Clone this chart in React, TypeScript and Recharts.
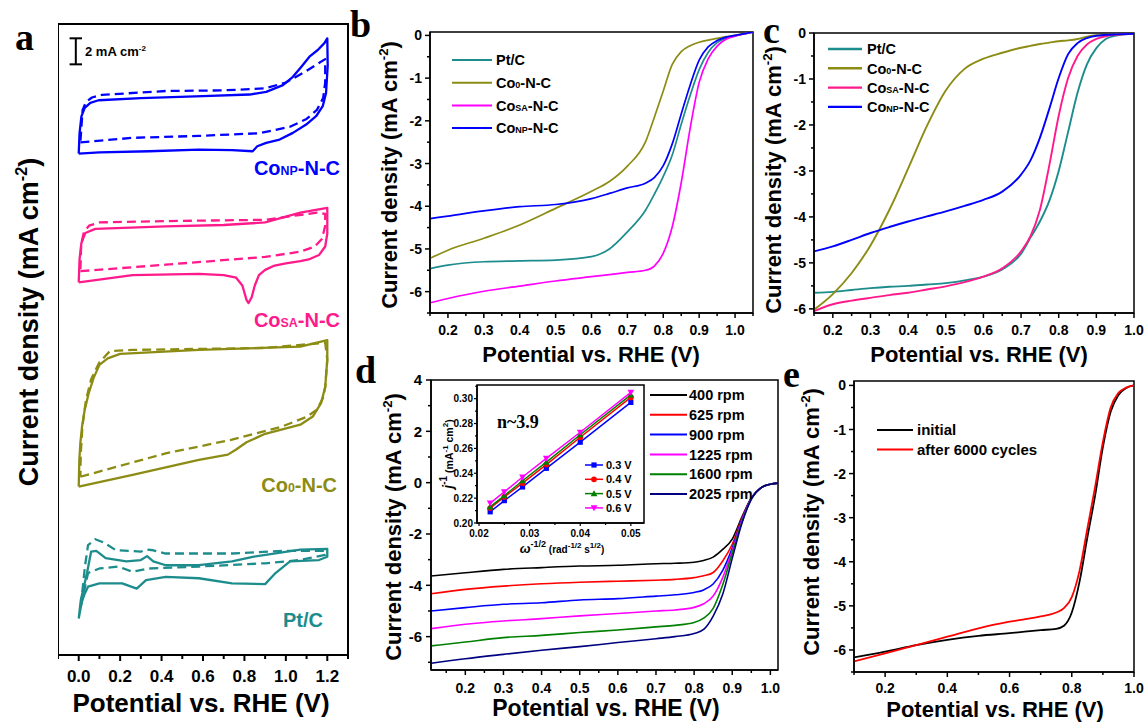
import React from 'react'
import { LineChart, Line, XAxis, YAxis, ReferenceArea, ReferenceLine } from 'recharts'

const FONT = '"Liberation Sans", Arial, Helvetica, sans-serif'
const SERIF = '"Liberation Serif", "Times New Roman", serif'

const TEAL = '#1c8c8c'
const OLIVE = '#8c8c14'
const PINK = '#ff1a8c'
const MAGENTA = '#ff00ff'
const BLUE = '#0000ff'

// ---------- panel a : CV loops, stacked (x in V, y in mA cm-2 with offsets)
const cvNpSolid = [[0.0, 38.54], [0.1, 38.64], [0.34, 38.72], [0.58, 38.85], [0.74, 38.8], [0.84, 38.72], [0.862, 39.1], [0.905, 39.36], [0.97, 39.62], [1.034, 40.13], [1.098, 40.77], [1.146, 41.41], [1.178, 42.18], [1.194, 43.2], [1.202, 45.3], [1.2, 47.4], [1.186, 47.03], [1.154, 46.5], [1.114, 45.99], [1.074, 45.2], [1.034, 44.44], [0.986, 43.8], [0.905, 43.28], [0.825, 43.08], [0.6, 42.95], [0.3, 42.8], [0.096, 42.64], [0.056, 42.44], [0.029, 42.05], [0.013, 41.4], [0.004, 40.1], [0.0, 38.54]]
const cvNpDash = [[0.008, 39.4], [0.26, 39.75], [0.58, 39.9], [0.87, 40.1], [1.02, 40.6], [1.1, 41.2], [1.15, 41.9], [1.18, 42.8], [1.19, 44.0], [1.19, 45.8], [1.15, 45.4], [1.1, 44.9], [1.0, 44.0], [0.9, 43.55], [0.7, 43.4], [0.42, 43.35], [0.112, 43.05], [0.064, 42.85], [0.035, 42.5], [0.019, 41.9], [0.013, 40.6], [0.008, 39.4]]
const cvSaSolid = [[0.0, 28.64], [0.26, 29.2], [0.58, 29.3], [0.7, 29.2], [0.76, 29.0], [0.79, 28.4], [0.81, 27.3], [0.82, 27.05], [0.835, 27.5], [0.85, 28.4], [0.87, 29.2], [0.9, 29.6], [0.94, 29.9], [1.0, 30.1], [1.07, 30.28], [1.11, 30.4], [1.16, 30.74], [1.19, 31.4], [1.2, 32.4], [1.2, 34.36], [1.07, 34.0], [0.9, 33.25], [0.7, 33.05], [0.42, 32.95], [0.08, 32.75], [0.032, 32.44], [0.013, 31.67], [0.004, 30.4], [0.0, 28.64]]
const cvSaDash = [[0.008, 29.5], [0.42, 30.0], [0.9, 30.6], [1.07, 31.0], [1.14, 31.4], [1.175, 32.0], [1.19, 33.0], [1.19, 33.9], [1.15, 34.0], [0.9, 33.45], [0.42, 33.35], [0.1, 33.25], [0.05, 33.0], [0.025, 32.5], [0.012, 31.6], [0.008, 29.5]]
const cvC0Solid = [[0.0, 12.95], [0.26, 13.85], [0.58, 15.0], [0.72, 15.4], [0.76, 15.8], [0.81, 16.35], [0.9, 17.0], [1.07, 17.7], [1.13, 18.33], [1.17, 19.36], [1.19, 20.6], [1.2, 22.7], [1.2, 24.2], [1.07, 23.7], [0.58, 23.45], [0.2, 23.15], [0.14, 22.8], [0.1, 22.3], [0.072, 21.3], [0.048, 20.1], [0.029, 18.85], [0.016, 17.55], [0.008, 16.3], [0.003, 15.0], [0.0, 12.95]]
const cvC0Dash = [[0.008, 13.7], [0.42, 15.5], [0.74, 16.55], [0.98, 17.55], [1.1, 18.3], [1.15, 18.85], [1.18, 19.8], [1.19, 20.6], [1.2, 22.7], [1.19, 24.0], [0.9, 23.6], [0.26, 23.45], [0.15, 23.35], [0.1, 22.5], [0.06, 21.2], [0.035, 19.6], [0.018, 17.6], [0.01, 15.5], [0.008, 13.7]]
const cvPtSolid = [[0.0, 2.8], [0.015, 4.1], [0.03, 4.75], [0.045, 5.25], [0.1, 5.5], [0.21, 5.5], [0.28, 5.1], [0.325, 5.75], [0.42, 6.0], [0.58, 5.9], [0.74, 5.5], [0.9, 5.45], [0.95, 6.3], [1.02, 7.2], [1.16, 7.3], [1.2, 7.55], [1.2, 8.15], [1.07, 8.1], [0.99, 7.9], [0.84, 7.55], [0.74, 7.2], [0.58, 6.9], [0.42, 6.9], [0.36, 7.2], [0.33, 7.6], [0.3, 7.3], [0.23, 7.2], [0.13, 7.45], [0.085, 8.0], [0.06, 7.95], [0.04, 6.3], [0.01, 4.2], [0.0, 2.8]]
const cvPtDash = [[0.01, 3.7], [0.045, 6.3], [0.1, 6.65], [0.19, 6.8], [0.26, 6.4], [0.34, 6.65], [0.58, 6.8], [0.9, 7.05], [1.07, 7.3], [1.19, 7.7], [1.19, 8.0], [0.99, 8.0], [0.74, 7.8], [0.42, 7.8], [0.36, 8.05], [0.33, 8.1], [0.3, 7.95], [0.18, 8.05], [0.12, 8.65], [0.08, 8.9], [0.045, 8.45], [0.03, 6.8], [0.01, 3.7]]

const aXTicks = [-0.1, 0, 0.1, 0.2, 0.3, 0.4, 0.5, 0.6, 0.7, 0.8, 0.9, 1.0, 1.1, 1.2, 1.3]
const aXMajor = [0, 0.2, 0.4, 0.6, 0.8, 1.0, 1.2]
// 2 mA cm-2 scale bar (data units)
const scaleBarX = -0.014
const scaleBarY = [45.4, 47.4]

// ---------- panel b : LSV, 4 catalysts
const bX = [0.15, 0.2, 0.3, 0.4, 0.5, 0.6, 0.65, 0.7, 0.75, 0.775, 0.8, 0.825, 0.85, 0.875, 0.9, 0.925, 0.95, 0.975, 1.0, 1.05]
const bPt = [-5.46, -5.38, -5.3, -5.28, -5.26, -5.18, -5.0, -4.6, -4.1, -3.72, -3.3, -2.8, -2.08, -1.4, -0.8, -0.4, -0.17, -0.07, -0.01, 0.07]
const bCo0 = [-5.22, -5.03, -4.75, -4.44, -4.05, -3.65, -3.42, -3.06, -2.5, -1.92, -1.3, -0.68, -0.38, -0.24, -0.16, -0.11, -0.07, -0.03, 0.0, 0.08]
const bCoSA = [-6.26, -6.16, -5.99, -5.87, -5.75, -5.65, -5.6, -5.55, -5.5, -5.4, -5.1, -4.48, -3.45, -2.17, -1.1, -0.55, -0.25, -0.09, -0.02, 0.08]
const bCoNP = [-4.29, -4.23, -4.11, -4.01, -3.96, -3.82, -3.7, -3.57, -3.46, -3.33, -3.05, -2.54, -1.84, -1.16, -0.58, -0.27, -0.12, -0.04, 0.0, 0.08]
const bXTicks = [0.15, 0.2, 0.25, 0.3, 0.35, 0.4, 0.45, 0.5, 0.55, 0.6, 0.65, 0.7, 0.75, 0.8, 0.85, 0.9, 0.95, 1.0, 1.05]
const bXMajor = [0.2, 0.3, 0.4, 0.5, 0.6, 0.7, 0.8, 0.9, 1.0]
const bYTicks = [0, -0.5, -1, -1.5, -2, -2.5, -3, -3.5, -4, -4.5, -5, -5.5, -6, -6.5]
const bYMajor = [0, -1, -2, -3, -4, -5, -6]

// ---------- panel c : LSV, 4 catalysts (other electrolyte)
const cX = [0.15, 0.2, 0.25, 0.3, 0.35, 0.4, 0.45, 0.5, 0.55, 0.6, 0.65, 0.7, 0.725, 0.75, 0.775, 0.8, 0.825, 0.85, 0.875, 0.9, 0.925, 0.95, 1.0]
const cPt = [-5.65, -5.63, -5.59, -5.55, -5.52, -5.5, -5.47, -5.44, -5.38, -5.3, -5.14, -4.8, -4.45, -4.1, -3.65, -3.0, -2.15, -1.3, -0.68, -0.33, -0.13, -0.06, -0.02]
const cCo0 = [-6.02, -5.68, -5.22, -4.62, -3.85, -2.95, -2.02, -1.25, -0.78, -0.56, -0.43, -0.32, -0.28, -0.24, -0.21, -0.18, -0.16, -0.13, -0.08, -0.05, -0.04, -0.03, -0.02]
const cCoSA = [-6.05, -5.9, -5.82, -5.76, -5.7, -5.65, -5.58, -5.51, -5.42, -5.3, -5.12, -4.75, -4.42, -3.85, -2.88, -1.8, -0.98, -0.5, -0.25, -0.13, -0.07, -0.04, -0.02]
const cCoNP = [-4.75, -4.64, -4.5, -4.35, -4.22, -4.1, -3.99, -3.88, -3.76, -3.63, -3.45, -3.08, -2.77, -2.28, -1.65, -0.98, -0.46, -0.22, -0.11, -0.06, -0.04, -0.03, -0.02]
const cXTicks = [0.15, 0.2, 0.25, 0.3, 0.35, 0.4, 0.45, 0.5, 0.55, 0.6, 0.65, 0.7, 0.75, 0.8, 0.85, 0.9, 0.95, 1.0]
const cXMajor = [0.2, 0.3, 0.4, 0.5, 0.6, 0.7, 0.8, 0.9, 1.0]
const cYTicks = [0, -0.5, -1, -1.5, -2, -2.5, -3, -3.5, -4, -4.5, -5, -5.5, -6]
const cYMajor = [0, -1, -2, -3, -4, -5, -6]

// ---------- panel d : rotating speeds
const dX = [0.11, 0.2, 0.3, 0.4, 0.5, 0.6, 0.7, 0.75, 0.8, 0.825, 0.85, 0.875, 0.9, 0.925, 0.95, 0.975, 1.0, 1.02]
const d400 = [-3.64, -3.51, -3.38, -3.31, -3.25, -3.22, -3.16, -3.14, -3.1, -3.03, -2.9, -2.6, -2.2, -1.35, -0.6, -0.2, -0.06, -0.02]
const d625 = [-4.33, -4.16, -4.03, -3.94, -3.88, -3.84, -3.8, -3.77, -3.7, -3.63, -3.5, -3.05, -2.4, -1.4, -0.6, -0.2, -0.06, -0.02]
const d900 = [-5.0, -4.87, -4.74, -4.68, -4.57, -4.52, -4.42, -4.37, -4.28, -4.18, -3.95, -3.42, -2.55, -1.45, -0.6, -0.2, -0.06, -0.02]
const d1225 = [-5.69, -5.52, -5.39, -5.3, -5.19, -5.1, -5.0, -4.96, -4.86, -4.72, -4.42, -3.7, -2.65, -1.5, -0.62, -0.2, -0.06, -0.02]
const d1600 = [-6.36, -6.21, -6.04, -5.95, -5.84, -5.74, -5.62, -5.56, -5.45, -5.28, -4.9, -3.98, -2.75, -1.55, -0.63, -0.2, -0.06, -0.02]
const d2025 = [-7.04, -6.86, -6.69, -6.53, -6.39, -6.23, -6.08, -6.0, -5.88, -5.72, -5.2, -4.35, -2.95, -1.6, -0.65, -0.2, -0.06, -0.02]
const dXTicks = [0.15, 0.2, 0.25, 0.3, 0.35, 0.4, 0.45, 0.5, 0.55, 0.6, 0.65, 0.7, 0.75, 0.8, 0.85, 0.9, 0.95, 1.0]
const dXMajor = [0.2, 0.3, 0.4, 0.5, 0.6, 0.7, 0.8, 0.9, 1.0]
const dYTicks = [-7, -6, -5, -4, -3, -2, -1, 0, 1, 2, 3, 4]
const dYMajor = [-6, -4, -2, 0, 2, 4]

// ---------- inset : K-L plot
const klX = [0.0222, 0.025, 0.0286, 0.0333, 0.04, 0.05]
const kl03 = [0.209, 0.218, 0.229, 0.244, 0.265, 0.297]
const kl04 = [0.212, 0.221, 0.232, 0.247, 0.269, 0.301]
const kl05 = [0.213, 0.222, 0.234, 0.249, 0.271, 0.303]
const kl06 = [0.216, 0.225, 0.237, 0.252, 0.273, 0.305]
const inXTicks = [0.02, 0.025, 0.03, 0.035, 0.04, 0.045, 0.05]
const inXMajor = [0.02, 0.03, 0.04, 0.05]
const inYTicks = [0.2, 0.21, 0.22, 0.23, 0.24, 0.25, 0.26, 0.27, 0.28, 0.29, 0.3, 0.31]
const inYMajor = [0.2, 0.22, 0.24, 0.26, 0.28, 0.3]

// ---------- panel e : durability
const eX = [0.1, 0.2, 0.3, 0.4, 0.5, 0.6, 0.7, 0.75, 0.775, 0.8, 0.825, 0.85, 0.875, 0.9, 0.925, 0.95, 0.975, 1.0]
const eInitial = [-6.17, -6.04, -5.89, -5.77, -5.68, -5.62, -5.55, -5.52, -5.45, -5.15, -4.45, -3.45, -2.5, -1.4, -0.6, -0.22, -0.06, 0.0]
const eAfter = [-6.26, -6.08, -5.89, -5.7, -5.51, -5.36, -5.24, -5.15, -5.05, -4.8, -4.2, -3.25, -2.3, -1.28, -0.5, -0.17, -0.05, 0.0]
const eXTicks = [0.1, 0.2, 0.3, 0.4, 0.5, 0.6, 0.7, 0.8, 0.9, 1.0]
const eXMajor = [0.2, 0.4, 0.6, 0.8, 1.0]
const eYTicks = [0, -0.5, -1, -1.5, -2, -2.5, -3, -3.5, -4, -4.5, -5, -5.5, -6, -6.5]
const eYMajor = [0, -1, -2, -3, -4, -5, -6]

const pts = (a: number[][]) => a.map(([x, y]) => ({ x, y }))
const zip = (xs: number[], ys: number[]) => xs.map((x, i) => ({ x, y: ys[i] }))
const f1 = (v: number) => v.toFixed(1)
const f2 = (v: number) => v.toFixed(2)
const fi = (v: number) => String(Math.round(v))

// tick lines drawn by hand so that minor ticks get no label
function tickFn(side: 'bottom' | 'left', majors: number[], fmt: (v: number) => string, fs: number, off: number, major = 5, minor = 3, sw = 1.5) {
    return (p: any) => {
        const v = Number(p.payload.value)
        const big = majors.some((m) => Math.abs(m - v) < 1e-9)
        const len = big ? major : minor
        if (side === 'bottom') {
            return (
                <g>
                    <line x1={p.x} y1={p.y} x2={p.x} y2={p.y + len} stroke="#000" strokeWidth={sw} />
                    {big && (
                        <text x={p.x} y={p.y + off} textAnchor="middle" fontFamily={FONT} fontWeight="bold" fontSize={fs} fill="#000">
                            {fmt(v)}
                        </text>
                    )}
                </g>
            )
        }
        return (
            <g>
                <line x1={p.x - len} y1={p.y} x2={p.x} y2={p.y} stroke="#000" strokeWidth={sw} />
                {big && (
                    <text x={p.x - off} y={p.y} dy="0.36em" textAnchor="end" fontFamily={FONT} fontWeight="bold" fontSize={fs} fill="#000">
                        {fmt(v)}
                    </text>
                )}
            </g>
        )
    }
}

type Box = { x: number; y: number; w: number; h: number }
const PAD = 14

function Frame({ box, yw, xh, children }: { box: Box; yw: number; xh: number; children: React.ReactNode }) {
    return (
        <div style={{ position: 'absolute', left: box.x - yw, top: box.y - PAD }}>
            <LineChart width={box.w + yw + PAD} height={box.h + PAD + xh} margin={{ top: PAD, right: PAD, bottom: 0, left: 0 }}>
                {children}
            </LineChart>
        </div>
    )
}

const axisLine = { stroke: '#000', strokeWidth: 1.5 }

function PanelA() {
    const loops = [
        { d: cvNpSolid, c: BLUE, dash: false },
        { d: cvNpDash, c: BLUE, dash: true },
        { d: cvSaSolid, c: PINK, dash: false },
        { d: cvSaDash, c: PINK, dash: true },
        { d: cvC0Solid, c: OLIVE, dash: false },
        { d: cvC0Dash, c: OLIVE, dash: true },
        { d: cvPtSolid, c: TEAL, dash: false },
        { d: cvPtDash, c: TEAL, dash: true }
    ]
    return (
        <Frame box={{ x: 58, y: 24, w: 290, h: 631 }} yw={0} xh={60}>
            <XAxis type="number" dataKey="x" domain={[-0.1, 1.3]} allowDataOverflow ticks={aXTicks} interval={0}
                tickSize={0} tickMargin={0} tickLine={false} height={60} axisLine={{ stroke: '#000', strokeWidth: 2 }}
                tick={tickFn('bottom', aXMajor, f1, 17, 27, 6, 4, 2)} />
            <YAxis type="number" domain={[0, 48.5]} allowDataOverflow hide />
            <ReferenceArea x1={-0.1} x2={1.3} y1={0} y2={48.5} fill="none" stroke="#000" strokeWidth={2} ifOverflow="visible" />
            {loops.map((l, i) => (
                <Line key={i} data={pts(l.d)} dataKey="y" type="linear" stroke={l.c} strokeWidth={2.3} strokeLinejoin="round"
                    strokeDasharray={l.dash ? '9 5' : undefined} dot={false} activeDot={false} isAnimationActive={false} />
            ))}
            <ReferenceLine segment={[{ x: scaleBarX, y: scaleBarY[0] }, { x: scaleBarX, y: scaleBarY[1] }]} stroke="#000" strokeWidth={2} ifOverflow="visible" />
            <ReferenceLine segment={[{ x: scaleBarX - 0.03, y: scaleBarY[0] }, { x: scaleBarX + 0.03, y: scaleBarY[0] }]} stroke="#000" strokeWidth={2} ifOverflow="visible" />
            <ReferenceLine segment={[{ x: scaleBarX - 0.03, y: scaleBarY[1] }, { x: scaleBarX + 0.03, y: scaleBarY[1] }]} stroke="#000" strokeWidth={2} ifOverflow="visible" />
        </Frame>
    )
}

function PanelB() {
    const series = [
        { ys: bPt, c: TEAL },
        { ys: bCo0, c: OLIVE },
        { ys: bCoSA, c: MAGENTA },
        { ys: bCoNP, c: BLUE }
    ]
    return (
        <Frame box={{ x: 430, y: 32, w: 323, h: 281 }} yw={50} xh={40}>
            <XAxis type="number" dataKey="x" domain={[0.15, 1.05]} allowDataOverflow ticks={bXTicks} interval={0}
                tickSize={0} tickMargin={0} tickLine={false} height={40} axisLine={axisLine}
                tick={tickFn('bottom', bXMajor, f1, 14, 22)} />
            <YAxis type="number" domain={[-6.5, 0.08]} allowDataOverflow ticks={bYTicks} interval={0}
                tickSize={0} tickMargin={0} tickLine={false} width={50} axisLine={axisLine}
                tick={tickFn('left', bYMajor, fi, 14, 8)} />
            <ReferenceArea x1={0.15} x2={1.05} y1={-6.5} y2={0.08} fill="none" stroke="#000" strokeWidth={1.5} ifOverflow="visible" />
            {series.map((s, i) => (
                <Line key={i} data={zip(bX, s.ys)} dataKey="y" type="monotone" stroke={s.c} strokeWidth={1.7}
                    dot={false} activeDot={false} isAnimationActive={false} />
            ))}
        </Frame>
    )
}

function PanelC() {
    const series = [
        { ys: cPt, c: TEAL },
        { ys: cCo0, c: OLIVE },
        { ys: cCoSA, c: PINK },
        { ys: cCoNP, c: BLUE }
    ]
    return (
        <Frame box={{ x: 814, y: 33, w: 320, h: 280 }} yw={50} xh={40}>
            <XAxis type="number" dataKey="x" domain={[0.15, 1.0]} allowDataOverflow ticks={cXTicks} interval={0}
                tickSize={0} tickMargin={0} tickLine={false} height={40} axisLine={axisLine}
                tick={tickFn('bottom', cXMajor, f1, 14, 22)} />
            <YAxis type="number" domain={[-6.09, 0]} allowDataOverflow ticks={cYTicks} interval={0}
                tickSize={0} tickMargin={0} tickLine={false} width={50} axisLine={axisLine}
                tick={tickFn('left', cYMajor, fi, 14, 8)} />
            <ReferenceArea x1={0.15} x2={1.0} y1={-6.09} y2={0} fill="none" stroke="#000" strokeWidth={1.5} ifOverflow="visible" />
            {series.map((s, i) => (
                <Line key={i} data={zip(cX, s.ys)} dataKey="y" type="monotone" stroke={s.c} strokeWidth={1.9}
                    dot={false} activeDot={false} isAnimationActive={false} />
            ))}
        </Frame>
    )
}

const dSeries = [
    { ys: d400, c: '#000000', name: '400 rpm' },
    { ys: d625, c: '#ff0000', name: '625 rpm' },
    { ys: d900, c: '#0000ff', name: '900 rpm' },
    { ys: d1225, c: '#ff00ff', name: '1225 rpm' },
    { ys: d1600, c: '#008000', name: '1600 rpm' },
    { ys: d2025, c: '#000080', name: '2025 rpm' }
]

function PanelD() {
    return (
        <Frame box={{ x: 431, y: 380, w: 347, h: 290 }} yw={50} xh={40}>
            <XAxis type="number" dataKey="x" domain={[0.11, 1.02]} allowDataOverflow ticks={dXTicks} interval={0}
                tickSize={0} tickMargin={0} tickLine={false} height={40} axisLine={axisLine}
                tick={tickFn('bottom', dXMajor, f1, 14, 23)} />
            <YAxis type="number" domain={[-7.3, 4]} allowDataOverflow ticks={dYTicks} interval={0}
                tickSize={0} tickMargin={0} tickLine={false} width={50} axisLine={axisLine}
                tick={tickFn('left', dYMajor, fi, 15, 9)} />
            <ReferenceArea x1={0.11} x2={1.02} y1={-7.3} y2={4} fill="none" stroke="#000" strokeWidth={1.5} ifOverflow="visible" />
            {dSeries.map((s, i) => (
                <Line key={i} data={zip(dX, s.ys)} dataKey="y" type="monotone" stroke={s.c} strokeWidth={1.6}
                    dot={false} activeDot={false} isAnimationActive={false} />
            ))}
        </Frame>
    )
}

const klSeries = [
    { ys: kl03, c: '#0000ff', m: 'square', name: '0.3 V' },
    { ys: kl04, c: '#ff0000', m: 'circle', name: '0.4 V' },
    { ys: kl05, c: '#008000', m: 'up', name: '0.5 V' },
    { ys: kl06, c: '#ff00ff', m: 'down', name: '0.6 V' }
]

function Marker({ cx, cy, m, c }: { cx: number; cy: number; m: string; c: string }) {
    const s = 2.6
    if (m === 'square') return <rect x={cx - s} y={cy - s} width={2 * s} height={2 * s} fill={c} />
    if (m === 'circle') return <circle cx={cx} cy={cy} r={s + 0.3} fill={c} />
    if (m === 'up') return <path d={`M${cx},${cy - s * 1.3} L${cx + s * 1.3},${cy + s} L${cx - s * 1.3},${cy + s} Z`} fill={c} />
    return <path d={`M${cx},${cy + s * 1.3} L${cx + s * 1.3},${cy - s} L${cx - s * 1.3},${cy - s} Z`} fill={c} />
}

function Inset() {
    return (
        <Frame box={{ x: 477, y: 385, w: 167, h: 138 }} yw={32} xh={22}>
            <XAxis type="number" dataKey="x" domain={[0.0196, 0.0526]} allowDataOverflow ticks={inXTicks} interval={0}
                tickSize={0} tickMargin={0} tickLine={false} height={22} axisLine={axisLine}
                tick={tickFn('bottom', inXMajor, f2, 10, 14, 3, 2, 1.2)} />
            <YAxis type="number" domain={[0.2, 0.311]} allowDataOverflow ticks={inYTicks} interval={0}
                tickSize={0} tickMargin={0} tickLine={false} width={32} axisLine={axisLine}
                tick={tickFn('left', inYMajor, f2, 10, 4, 3, 2, 1.2)} />
            <ReferenceArea x1={0.0196} x2={0.0526} y1={0.2} y2={0.311} fill="none" stroke="#000" strokeWidth={1.5} ifOverflow="visible" />
            {klSeries.map((s, i) => (
                <Line key={i} data={zip(klX, s.ys)} dataKey="y" type="linear" stroke={s.c} strokeWidth={1.5}
                    dot={(p: any) => <Marker key={p.index} cx={p.cx} cy={p.cy} m={s.m} c={s.c} />}
                    activeDot={false} isAnimationActive={false} />
            ))}
        </Frame>
    )
}

function PanelE() {
    return (
        <Frame box={{ x: 854, y: 381, w: 280, h: 291 }} yw={50} xh={40}>
            <XAxis type="number" dataKey="x" domain={[0.1, 1.0]} allowDataOverflow ticks={eXTicks} interval={0}
                tickSize={0} tickMargin={0} tickLine={false} height={40} axisLine={axisLine}
                tick={tickFn('bottom', eXMajor, f1, 14, 21)} />
            <YAxis type="number" domain={[-6.5, 0.1]} allowDataOverflow ticks={eYTicks} interval={0}
                tickSize={0} tickMargin={0} tickLine={false} width={50} axisLine={axisLine}
                tick={tickFn('left', eYMajor, fi, 14, 8)} />
            <ReferenceArea x1={0.1} x2={1.0} y1={-6.5} y2={0.1} fill="none" stroke="#000" strokeWidth={1.5} ifOverflow="visible" />
            <Line data={zip(eX, eInitial)} dataKey="y" type="monotone" stroke="#000" strokeWidth={1.8} dot={false} activeDot={false} isAnimationActive={false} />
            <Line data={zip(eX, eAfter)} dataKey="y" type="monotone" stroke="#ff0000" strokeWidth={1.8} dot={false} activeDot={false} isAnimationActive={false} />
        </Frame>
    )
}

// ---------- text overlay: titles, panel letters, legends
const bold = { fontFamily: FONT, fontWeight: 'bold' as const }

function CurrentTitle({ x, y, fs }: { x: number; y: number; fs: number }) {
    return (
        <text transform={`translate(${x},${y}) rotate(-90)`} textAnchor="middle" fontSize={fs} {...bold}>
            Current density (mA cm<tspan fontSize={fs * 0.6} dy={-fs * 0.42}>-2</tspan>
            <tspan dy={fs * 0.42}>)</tspan>
        </text>
    )
}

function PotentialTitle({ x, y, fs }: { x: number; y: number; fs: number }) {
    return (
        <text x={x} y={y} textAnchor="middle" fontSize={fs} {...bold}>
            Potential vs. RHE (V)
        </text>
    )
}

function co(sub: string, fs: number) {
    return (
        <>
            Co<tspan fontSize={fs * 0.62}>{sub}</tspan>-N-C
        </>
    )
}

function Legend({ x, y, len, gap, rowH, fs, items, sw = 2 }: { x: number; y: number; len: number; gap: number; rowH: number; fs: number; items: { c: string; label: React.ReactNode }[]; sw?: number }) {
    return (
        <g>
            {items.map((it, i) => (
                <g key={i}>
                    <line x1={x} x2={x + len} y1={y + i * rowH} y2={y + i * rowH} stroke={it.c} strokeWidth={sw} />
                    <text x={x + len + gap} y={y + i * rowH} dy="0.36em" fontSize={fs} {...bold}>
                        {it.label}
                    </text>
                </g>
            ))}
        </g>
    )
}

function Overlay() {
    const letter = { fontFamily: SERIF, fontWeight: 'bold' as const, fontSize: 38 }
    return (
        <svg width={1146} height={724} style={{ position: 'absolute', left: 0, top: 0, pointerEvents: 'none' }}>
            {/* panel letters */}
            <text x={15} y={50} {...letter}>a</text>
            <text x={350} y={37} {...letter}>b</text>
            <text x={763} y={43} {...letter}>c</text>
            <text x={355} y={383} {...letter}>d</text>
            <text x={783} y={387} {...letter}>e</text>

            {/* panel a */}
            <CurrentTitle x={38} y={322} fs={27} />
            <PotentialTitle x={201} y={712} fs={26} />
            <text x={85} y={56} fontSize={13} {...bold}>
                2 mA cm<tspan fontSize={8} dy={-5}>-2</tspan>
            </text>
            <text x={340} y={175} textAnchor="end" fontSize={20} fill={BLUE} {...bold}>{co('NP', 20)}</text>
            <text x={340} y={327} textAnchor="end" fontSize={20} fill={PINK} {...bold}>{co('SA', 20)}</text>
            <text x={337} y={492} textAnchor="end" fontSize={20} fill={OLIVE} {...bold}>{co('0', 20)}</text>
            <text x={323} y={627} textAnchor="end" fontSize={20} fill={TEAL} {...bold}>Pt/C</text>

            {/* panel b */}
            <CurrentTitle x={397} y={175} fs={22} />
            <PotentialTitle x={591} y={362} fs={22} />
            <Legend x={452} y={60} len={40} gap={4} rowH={22.7} fs={14.5}
                items={[
                    { c: TEAL, label: 'Pt/C' },
                    { c: OLIVE, label: co('0', 14.5) },
                    { c: MAGENTA, label: co('SA', 14.5) },
                    { c: BLUE, label: co('NP', 14.5) }
                ]} />

            {/* panel c */}
            <CurrentTitle x={781} y={180} fs={22} />
            <PotentialTitle x={979} y={362} fs={22} />
            <Legend x={828} y={49} len={34} gap={5} rowH={19.3} fs={14.5} sw={2.4}
                items={[
                    { c: TEAL, label: 'Pt/C' },
                    { c: OLIVE, label: co('0', 14.5) },
                    { c: PINK, label: co('SA', 14.5) },
                    { c: BLUE, label: co('NP', 14.5) }
                ]} />

            {/* panel d */}
            <CurrentTitle x={401} y={527} fs={22} />
            <PotentialTitle x={606} y={716} fs={23} />
            <Legend x={650} y={395} len={37} gap={2} rowH={19.8} fs={14.5}
                items={dSeries.map((s) => ({ c: s.c, label: s.name }))} />

            {/* inset */}
            <text x={497} y={428} fontFamily={SERIF} fontWeight="bold" fontSize={18}>n~3.9</text>
            <text transform="translate(453,454) rotate(-90)" textAnchor="middle" fontSize={14} {...bold}>
                <tspan fontStyle="italic">j</tspan>
                <tspan fontSize={10} dy={-6}>-1</tspan>
                <tspan fontSize={10.5} dy={6}> (mA</tspan>
                <tspan fontSize={8} dy={-5}>-1</tspan>
                <tspan fontSize={10.5} dy={5}> cm</tspan>
                <tspan fontSize={8} dy={-5}>2</tspan>
                <tspan fontSize={10.5} dy={5}>)</tspan>
            </text>
            <text x={562} y={553} textAnchor="middle" fontSize={13} {...bold}>
                <tspan fontStyle="italic">ω</tspan>
                <tspan fontSize={9} dy={-6}>-1/2</tspan>
                <tspan fontSize={10} dy={6}> (rad</tspan>
                <tspan fontSize={8} dy={-5}>-1/2</tspan>
                <tspan fontSize={10} dy={5}> s</tspan>
                <tspan fontSize={8} dy={-5}>1/2</tspan>
                <tspan fontSize={10} dy={5}>)</tspan>
            </text>
            {klSeries.map((s, i) => (
                <g key={i}>
                    <line x1={585} x2={603} y1={465 + i * 14.3} y2={465 + i * 14.3} stroke={s.c} strokeWidth={1.5} />
                    <Marker cx={594} cy={465 + i * 14.3} m={s.m} c={s.c} />
                    <text x={606} y={465 + i * 14.3} dy="0.36em" fontSize={11} {...bold}>{s.name}</text>
                </g>
            ))}

            {/* panel e */}
            <CurrentTitle x={819} y={522} fs={22} />
            <PotentialTitle x={995} y={717} fs={22} />
            <Legend x={877} y={430} len={36} gap={4} rowH={19.5} fs={15}
                items={[
                    { c: '#000', label: 'initial' },
                    { c: '#ff0000', label: 'after 6000 cycles' }
                ]} />
        </svg>
    )
}

export default function App() {
    return (
        <div style={{ position: 'absolute', left: 0, top: 0, width: 1146, height: 724, background: '#fff', overflow: 'hidden', fontFamily: FONT }}>
            <PanelA />
            <PanelB />
            <PanelC />
            <PanelD />
            <Inset />
            <PanelE />
            <Overlay />
        </div>
    )
}
